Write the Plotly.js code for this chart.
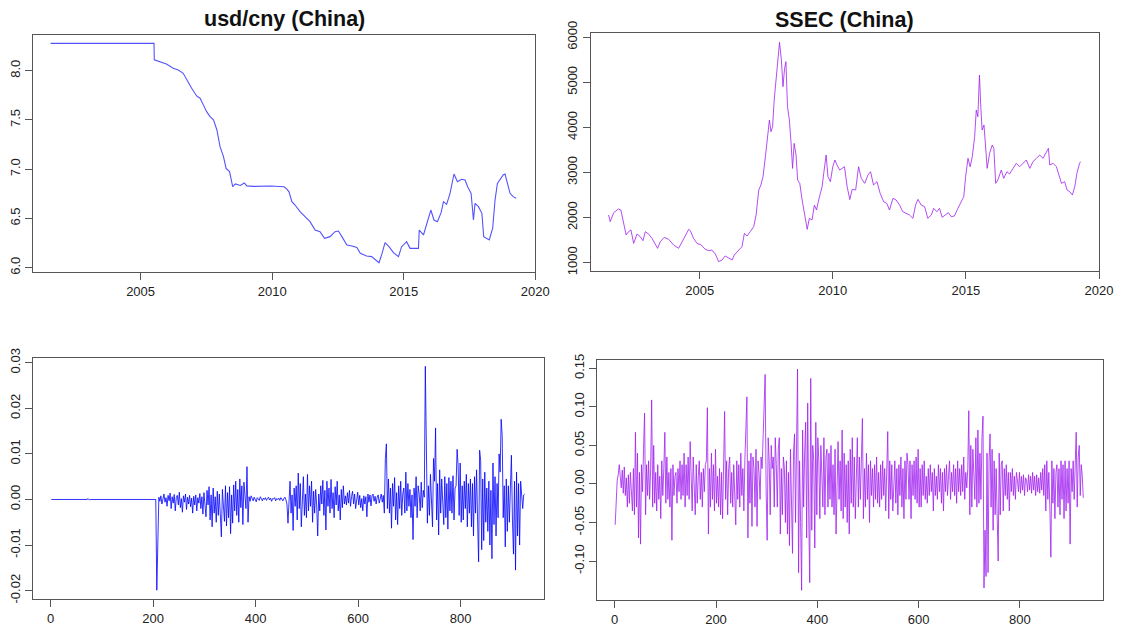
<!DOCTYPE html>
<html>
<head>
<meta charset="utf-8">
<script src="https://cdn.plot.ly/plotly-3.0.1.min.js"></script>
<style>html,body{margin:0;padding:0;background:#fff;}#chart{width:1128px;height:633px;}</style>
</head>
<body>
<div id="chart"></div>
<script>
// ---- usd/cny weekly level (decimal year, rate) ----
const cnyYear = [2001.58,2005.51,2005.52,2005.73,2005.98,2006.24,2006.43,2006.62,2006.75,2006.94,2007.13,2007.26,2007.39,2007.51,2007.64,2007.77,2007.90,2008.02,2008.15,2008.25,2008.38,2008.50,2008.60,2008.79,2008.94,2009.04,2009.30,2009.94,2010.45,2010.55,2010.64,2010.75,2010.87,2011.06,2011.25,2011.44,2011.63,2011.82,2011.99,2012.20,2012.39,2012.52,2012.65,2012.84,2013.03,2013.22,2013.35,2013.59,2013.78,2013.97,2014.06,2014.16,2014.29,2014.44,2014.61,2014.80,2014.92,2015.11,2015.24,2015.56,2015.59,2015.75,2015.87,2016.03,2016.15,2016.28,2016.42,2016.51,2016.63,2016.76,2016.91,2017.04,2017.20,2017.33,2017.43,2017.56,2017.65,2017.71,2017.84,2017.97,2018.04,2018.16,2018.25,2018.38,2018.47,2018.56,2018.68,2018.78,2018.85,2018.95,2019.04,2019.16,2019.27];
const cnyRate = [8.277,8.277,8.110,8.088,8.068,8.024,8.007,7.973,7.905,7.821,7.743,7.720,7.650,7.584,7.533,7.500,7.398,7.228,7.127,7.008,6.975,6.822,6.850,6.835,6.860,6.830,6.825,6.829,6.822,6.800,6.770,6.670,6.636,6.570,6.518,6.467,6.382,6.365,6.298,6.315,6.365,6.372,6.315,6.230,6.220,6.206,6.146,6.118,6.112,6.071,6.050,6.130,6.254,6.213,6.152,6.112,6.213,6.264,6.196,6.196,6.382,6.332,6.433,6.585,6.484,6.467,6.558,6.670,6.643,6.755,6.951,6.873,6.897,6.890,6.822,6.755,6.484,6.653,6.619,6.552,6.315,6.298,6.281,6.400,6.687,6.856,6.897,6.941,6.951,6.856,6.755,6.721,6.704];

// ---- SSEC weekly level (decimal year, index) ----
const ssecYear = [2001.58,2001.64,2001.77,2001.95,2002.04,2002.14,2002.24,2002.33,2002.42,2002.52,2002.65,2002.77,2002.87,2002.96,2003.08,2003.21,2003.33,2003.42,2003.52,2003.67,2003.84,2004.02,2004.21,2004.40,2004.59,2004.65,2004.77,2004.90,2005.06,2005.21,2005.34,2005.46,2005.59,2005.71,2005.84,2005.96,2006.09,2006.22,2006.30,2006.47,2006.59,2006.68,2006.78,2006.90,2007.03,2007.12,2007.22,2007.30,2007.38,2007.47,2007.55,2007.62,2007.68,2007.74,2007.80,2007.88,2007.94,2008.00,2008.07,2008.13,2008.19,2008.24,2008.30,2008.37,2008.43,2008.49,2008.55,2008.62,2008.68,2008.76,2008.85,2008.93,2009.04,2009.12,2009.22,2009.31,2009.39,2009.47,2009.60,2009.66,2009.75,2009.82,2009.91,2010.00,2010.08,2010.16,2010.26,2010.35,2010.44,2010.54,2010.64,2010.73,2010.86,2010.97,2011.07,2011.20,2011.32,2011.42,2011.53,2011.66,2011.78,2011.91,2012.03,2012.13,2012.26,2012.38,2012.51,2012.63,2012.76,2012.88,2013.01,2013.11,2013.20,2013.32,2013.45,2013.57,2013.70,2013.79,2013.91,2014.01,2014.11,2014.24,2014.34,2014.45,2014.57,2014.70,2014.82,2014.92,2014.99,2015.08,2015.16,2015.24,2015.33,2015.39,2015.45,2015.51,2015.56,2015.61,2015.68,2015.74,2015.80,2015.89,2015.99,2016.05,2016.12,2016.20,2016.33,2016.42,2016.54,2016.64,2016.77,2016.89,2017.02,2017.15,2017.27,2017.40,2017.52,2017.65,2017.77,2017.90,2018.00,2018.10,2018.15,2018.28,2018.40,2018.50,2018.59,2018.71,2018.80,2018.90,2019.00,2019.09,2019.17,2019.27,2019.31];
const ssecLevel = [2058,1910,2109,2191,2168,1910,1614,1688,1725,1429,1636,1577,1489,1688,1636,1540,1393,1319,1466,1562,1518,1393,1319,1540,1740,1710,1540,1429,1393,1296,1267,1281,1193,1023,1060,1149,1097,1060,1171,1281,1355,1651,1592,1688,1799,2058,2612,2723,2907,3351,3794,4164,3905,4016,4607,5198,5531,5886,5494,4903,5309,5457,4459,4164,3683,3092,3646,3388,2833,2760,2390,2095,1740,1984,1947,2279,2168,2390,2686,2981,3388,2907,2797,3129,3277,3166,3055,3092,3129,2686,2400,2627,2612,3129,2870,2760,2944,3018,2723,2797,2538,2353,2316,2168,2427,2390,2279,2131,2095,2058,1984,2279,2405,2279,2242,1984,2058,2205,2131,2205,2006,2058,2109,2021,2036,2205,2353,2464,2907,3314,3129,3351,3794,4385,4238,5161,4459,3942,4053,3646,3092,3425,3609,3536,2760,2833,3055,2870,3018,2967,3092,3203,3129,3218,3277,3092,3240,3314,3388,3314,3410,3536,3166,3203,3129,2907,2760,2797,2612,2575,2501,2686,2981,3203,3240];

// ---- weekly log returns, read at every 2nd observation (obs 1, 3, 5, ...) ----
const retStep = 2;
const cnyReturn = [
0,0,0,0,0,0,0,0,0,0,
0,0,0,0,0,0,0,0,0,0,
0,0,0,0,0,0,0,0,0,0,
0,0,0,0,0,0,.0002,-.0001,0,0,
0,0,0,0,0,0,0,0,0,0,
0,0,0,0,0,0,0,0,0,0,
0,0,0,0,0,0,0,0,0,0,
0,0,0,0,0,0,0,0,0,0,
0,0,0,0,0,0,0,0,0,0,
0,0,0,0,0,0,0,0,0,0,
0,0,0,
-.0199,-.0100,
.0005,-.0004,.0008,-.0010,.0003,.0012,-.0006,.0004,-.0015,.0009,
-.0003,.0014,-.0020,.0006,-.0008,.0011,-.0025,.0004,.0009,-.0012,
.0016,-.0018,.0002,-.0028,.0008,-.0006,.0012,-.0022,.0005,-.0010,
.0009,-.0016,.0003,-.0030,.0007,-.0012,.0010,-.0025,.0004,-.0008,
.0013,-.0020,.0006,-.0032,.0015,-.0010,
-.0038,.0020,-.0012,.0028,-.0045,.0010,-.0060,.0025,-.0030,.0006,
-.0050,.0018,-.0035,.0012,-.0028,-.0082,.0022,-.0015,-.0048,.0030,
-.0058,.0015,-.0040,.0028,-.0075,.0010,-.0052,.0032,-.0025,.0040,
-.0035,.0022,-.0050,.0045,-.0018,.0030,-.0055,.0038,.0012,-.0020,
.0072,
-.0050,
.0006,-.0004,.0008,.0002,-.0003,.0005,.0001,-.0005,.0004,.0002,
-.0002,.0006,.0001,-.0003,.0003,.0000,.0004,-.0002,.0002,.0005,
-.0001,.0003,-.0004,.0002,.0001,.0004,-.0003,.0002,.0000,.0003,
-.0002,.0004,.0001,-.0003,.0002,.0005,-.0001,
-.0010,-.0052,.0015,.0040,-.0030,.0010,-.0068,.0025,-.0015,.0030,
-.0045,.0058,-.0020,.0035,-.0060,.0020,.0050,-.0035,.0012,-.0040,
.0055,-.0025,.0030,-.0015,.0040,-.0050,.0018,-.0030,.0022,-.0012,
-.0080,
.0012,-.0025,.0030,-.0010,.0042,-.0035,.0020,-.0067,.0040,-.0015,
.0025,-.0030,.0044,-.0020,.0015,-.0040,.0028,-.0012,.0040,-.0025,
.0010,-.0045,.0022,-.0018,.0030,-.0010,.0008,
-.0012,.0015,-.0008,.0020,-.0015,.0006,.0018,-.0010,.0012,-.0020,
.0004,.0016,-.0012,.0009,-.0018,.0002,-.0025,.0008,-.0010,.0006,
-.0038,.0012,-.0006,.0010,-.0014,.0008,.0012,-.0004,.0007,-.0010,
.0005,.0010,-.0008,.0003,.0012,-.0006,.0009,-.0030,
.0090,.0122,-.0020,.0045,-.0030,.0025,-.0063,.0035,-.0015,.0048,
-.0045,.0015,-.0055,.0030,-.0020,.0040,-.0035,.0012,.0025,-.0030,
.0060,-.0025,.0035,-.0015,.0022,-.0040,.0010,-.0088,.0025,-.0015,
.0050,-.0040,.0030,.0012,-.0025,.0038,-.0018,.0020,.0005,
.0292,.0142,-.0052,.0030,-.0035,.0055,-.0020,-.0060,.0090,.0040,
.0157,-.0045,.0035,-.0078,.0065,-.0030,.0045,-.0025,-.0055,.0050,
-.0040,.0035,-.0065,.0048,-.0025,.0040,-.0030,.0052,-.0045,.0025,
.0030,.0110,.0075,-.0035,.0080,-.0050,.0030,-.0045,.0040,-.0020,
.0055,-.0060,.0035,-.0030,.0045,
-.0060,.0035,-.0080,.0050,-.0030,.0065,-.0045,-.0137,.0108,.0085,
-.0110,.0045,-.0090,.0060,-.0050,.0025,-.0070,.0040,-.0100,.0020,
-.0130,
.0080,-.0055,.0050,-.0080,.0035,-.0040,.0100,.0060,.0176,.0140,
-.0040,.0030,-.0104,.0045,-.0070,.0030,-.0050,.0025,.0097,-.0045,
-.0120,.0040,-.0155,.0060,-.0080,.0035,-.0100,.0040,.0012,-.0020,
.0010,.0012];

const ssecReturn = [
-.053,-.020,.005,.012,.025,.010,-.005,.018,-.012,.022,
-.015,.008,-.030,.012,-.025,.015,-.010,-.035,.020,-.040,
.067,-.030,.040,-.070,.015,-.078,.025,-.010,.045,.092,
-.040,.025,-.015,.030,-.020,.020,.109,-.030,.050,-.025,
.015,-.035,.025,-.020,.010,-.045,.030,-.015,.020,.067,
-.025,.035,-.020,.015,-.030,.020,-.073,.025,-.015,.010,
.015,-.025,.020,-.010,.030,-.020,.025,-.015,.040,-.030,
.025,-.015,.035,-.020,.055,.020,-.035,.035,-.020,-.040,
.025,-.025,.010,.030,-.020,.015,-.030,.020,-.010,.025,
.030,.099,-.065,.020,-.030,.040,-.020,.025,-.035,.045,
-.025,.010,-.030,.020,-.040,.015,-.045,.030,.094,-.020,
.030,-.040,.020,.035,-.025,.015,-.030,.025,-.020,-.053,
.030,-.020,.025,-.030,.040,-.015,.020,-.035,.030,.065,
.113,-.070,.030,-.025,.040,-.055,.035,.020,-.030,.045,
-.055,.030,.015,-.020,.035,.020,.060,.086,.142,-.010,
-.073,.060,.030,-.040,.050,.020,.035,-.030,.060,.025,
-.030,.045,.060,-.065,.020,-.040,.035,.020,-.050,.030,
-.065,.015,-.080,.045,-.030,-.090,.040,.065,-.050,.030,
.149,-.115,.030,-.050,-.138,.070,-.030,.040,.080,-.070,
.105,-.040,-.128,.137,-.060,.050,.030,-.083,.080,-.040,
.060,.030,-.045,.050,.020,-.030,.060,-.040,.035,.045,
-.030,.040,-.020,.050,-.030,.025,-.040,.045,-.065,.030,
.055,-.020,.030,-.035,.070,-.045,.040,-.030,.025,-.050,
.030,-.065,.045,-.025,.060,-.030,.035,-.045,.025,.060,
-.030,.035,-.020,.040,.085,-.045,.020,-.030,.040,-.020,
.025,-.050,.030,-.015,.020,-.030,.025,-.020,.035,-.025,
.015,-.030,.025,-.020,.030,-.015,.020,-.035,.040,.068,
-.045,.030,-.020,.025,-.035,.015,.030,-.025,.020,-.040,
.025,-.015,.035,-.030,.020,-.045,.030,-.020,.040,.025,
-.020,.030,-.045,.025,-.015,.030,-.020,.035,-.025,.045,
-.030,.020,-.030,.025,-.015,.030,-.020,.010,-.025,.020,
-.015,.025,-.010,.015,-.035,.020,-.015,.010,-.020,.025,
-.010,.020,-.025,.015,-.035,.020,-.010,.025,-.015,.010,
.030,-.020,.015,-.010,.025,-.015,.020,-.025,.030,-.010,
.020,-.015,.025,-.010,.035,-.020,.015,-.005,.020,.095,
-.040,.050,-.030,.045,.020,-.020,.060,-.030,.070,-.025,
.040,-.020,.060,.088,-.135,-.060,-.120,.040,-.115,.030,
.065,-.030,.045,-.060,.030,-.040,.020,-.050,-.100,.040,
-.040,.025,.030,-.035,.020,-.015,.025,-.020,.015,-.035,
.015,-.010,.020,-.015,.010,-.020,.015,.005,-.010,.015,
-.012,.010,-.008,.012,-.015,.008,.005,-.010,.012,-.008,
.010,-.012,.015,-.008,.010,-.015,.012,-.010,.008,-.012,
.015,-.008,.020,-.015,.025,-.035,.030,-.020,.015,-.030,
-.095,.030,-.025,.020,-.045,.015,.025,-.030,.020,-.040,
.030,-.020,.025,-.045,.030,-.035,.020,-.025,.030,-.078,
.020,-.010,.030,-.020,.025,.067,-.030,.035,.050,-.015,
.025,.010,-.018];

// ---- tick labels ----
const yearTicks = [2005, 2010, 2015, 2020];
const yearLabels = ['2005', '2010', '2015', '2020'];
const cnyTicks = [6.0, 6.5, 7.0, 7.5, 8.0];
const cnyLabels = ['6.0', '6.5', '7.0', '7.5', '8.0'];
const ssecTicks = [1000, 2000, 3000, 4000, 5000, 6000];
const ssecLabels = ['1000', '2000', '3000', '4000', '5000', '6000'];
const obsTicks = [0, 200, 400, 600, 800];
const obsLabels = ['0', '200', '400', '600', '800'];
const cnyRetTicks = [-0.02, -0.01, 0, 0.01, 0.02, 0.03];
const cnyRetLabels = ['-0.02', '-0.01', '0.00', '0.01', '0.02', '0.03'];
const ssecRetTicks = [-0.10, -0.05, 0, 0.05, 0.10, 0.15];
const ssecRetLabels = ['-0.10', '-0.05', '0.00', '0.05', '0.10', '0.15'];
const titles = ['usd/cny (China)', 'SSEC (China)'];

// observation numbers for the sampled returns
const obsIndex = arr => arr.map((_, i) => 1 + i * retStep);

const W = 1128, H = 633;
const px = v => v / W;
const py = v => 1 - v / H;

const traces = [
  {x: cnyYear, y: cnyRate, type: 'scatter', mode: 'lines', xaxis: 'x', yaxis: 'y',
   line: {color: 'rgba(0,0,255,0.68)', width: 1.1}, hoverinfo: 'skip'},
  {x: ssecYear, y: ssecLevel, type: 'scatter', mode: 'lines', xaxis: 'x2', yaxis: 'y2',
   line: {color: 'rgba(160,32,240,0.8)', width: 1}, hoverinfo: 'skip'},
  {x: obsIndex(cnyReturn), y: cnyReturn, type: 'scatter', mode: 'lines', xaxis: 'x3', yaxis: 'y3',
   line: {color: 'rgba(0,0,255,0.8)', width: 1}, hoverinfo: 'skip'},
  {x: obsIndex(ssecReturn), y: ssecReturn, type: 'scatter', mode: 'lines', xaxis: 'x4', yaxis: 'y4',
   line: {color: 'rgba(160,32,240,0.8)', width: 1}, hoverinfo: 'skip'}
];

const axisBase = {
  showline: true, mirror: true, linecolor: '#555', linewidth: 1,
  ticks: 'outside', ticklen: 7, tickwidth: 1, tickcolor: '#555',
  showgrid: false, zeroline: false, fixedrange: true,
  tickfont: {family: 'Liberation Sans, Arial, sans-serif', size: 13, color: '#222'},
  tickmode: 'array'
};
const xa = (o) => Object.assign({}, axisBase, o);
const ya = (o) => Object.assign({}, axisBase, {tickangle: -90}, o);

const layout = {
  width: W, height: H,
  margin: {l: 0, r: 0, t: 0, b: 0, pad: 0},
  paper_bgcolor: '#fff', plot_bgcolor: '#fff',
  showlegend: false,
  font: {family: 'Liberation Sans, Arial, sans-serif', size: 13, color: '#222'},
  xaxis:  xa({domain: [px(32.7), px(535.3)], range: [2000.9, 2020.0], tickvals: yearTicks, ticktext: yearLabels, anchor: 'y'}),
  yaxis:  ya({domain: [py(272.3), py(34.7)], range: [5.953, 8.365], tickvals: cnyTicks, ticktext: cnyLabels, anchor: 'x'}),
  xaxis2: xa({domain: [px(590.5), px(1099)], range: [2000.9, 2020.0], tickvals: yearTicks, ticktext: yearLabels, anchor: 'y2'}),
  yaxis2: ya({domain: [py(271), py(32.7)], range: [816, 6100], tickvals: ssecTicks, ticktext: ssecLabels, anchor: 'x2'}),
  xaxis3: xa({domain: [px(33.3), px(543.7)], range: [-34, 962], tickvals: obsTicks, ticktext: obsLabels, anchor: 'y3'}),
  yaxis3: ya({domain: [py(599.3), py(357.7)], range: [-0.0219, 0.0311], tickvals: cnyRetTicks, ticktext: cnyRetLabels, anchor: 'x3'}),
  xaxis4: xa({domain: [px(597.3), px(1103.3)], range: [-34.3, 964.5], tickvals: obsTicks, ticktext: obsLabels, anchor: 'y4'}),
  yaxis4: ya({domain: [py(600), py(360)], range: [-0.1505, 0.1608], tickvals: ssecRetTicks, ticktext: ssecRetLabels, anchor: 'x4'}),
  annotations: [
    {text: '<b>' + titles[0] + '</b>', xref: 'paper', yref: 'paper', x: px(284), y: py(19), xanchor: 'center', yanchor: 'middle',
     showarrow: false, font: {family: 'Liberation Sans, Arial, sans-serif', size: 21.5, color: '#111'}},
    {text: '<b>' + titles[1] + '</b>', xref: 'paper', yref: 'paper', x: px(844.5), y: py(20), xanchor: 'center', yanchor: 'middle',
     showarrow: false, font: {family: 'Liberation Sans, Arial, sans-serif', size: 21.5, color: '#111'}}
  ]
};

Plotly.newPlot('chart', traces, layout, {displayModeBar: false, staticPlot: true});
</script>
</body>
</html>
